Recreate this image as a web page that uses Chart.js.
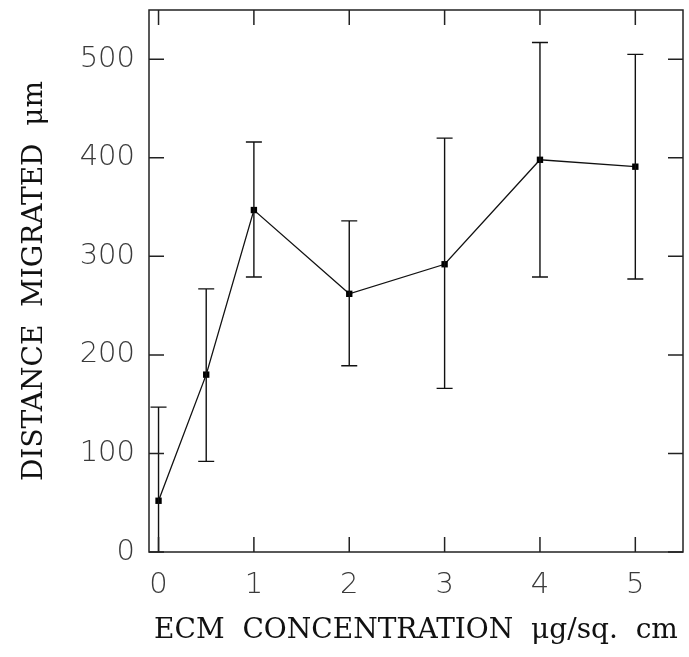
<!DOCTYPE html>
<html>
<head>
<meta charset="utf-8">
<script src="https://cdn.jsdelivr.net/npm/chart.js@4/dist/chart.umd.min.js"></script>
<style>
html,body{margin:0;padding:0;background:#fff;}
#wrap{width:689px;height:657px;}
</style>
</head>
<body>
<div id="wrap"><canvas id="c" width="689" height="657"></canvas></div>
<script>
const concentrations = [0, 0.5, 1, 2, 3, 4, 5];
const distances = [52, 180, 347, 262, 292, 398, 391];
const errUpper = [147, 267, 416, 336, 420, 517, 505];
const errLower = [-44, 92, 279, 189, 166, 279, 277];
const xTicks = [0, 1, 2, 3, 4, 5];
const yTicks = [0, 100, 200, 300, 400, 500];

const points = concentrations.map((x, i) => ({x: x, y: distances[i]}));

const framePlugin = {
  id: 'frame',
  afterDatasetsDraw(chart) {
    const ctx = chart.ctx;
    const a = chart.chartArea;
    const xs = chart.scales.x, ys = chart.scales.y;
    ctx.save();
    ctx.beginPath();
    ctx.rect(a.left, a.top, a.right - a.left, a.bottom - a.top);
    ctx.clip();
    ctx.strokeStyle = '#111';
    ctx.lineWidth = 1.4;
    concentrations.forEach((x, i) => {
      const px = xs.getPixelForValue(x);
      const pt = ys.getPixelForValue(errUpper[i]);
      const pb = ys.getPixelForValue(errLower[i]);
      ctx.beginPath();
      ctx.moveTo(px, pt); ctx.lineTo(px, pb);
      ctx.moveTo(px - 8, pt); ctx.lineTo(px + 8, pt);
      ctx.moveTo(px - 8, pb); ctx.lineTo(px + 8, pb);
      ctx.stroke();
    });
    ctx.restore();
    ctx.save();
    ctx.strokeStyle = '#222';
    ctx.lineWidth = 1.5;
    ctx.strokeRect(a.left, a.top, a.right - a.left, a.bottom - a.top);
    const tl = 15;
    ctx.beginPath();
    xTicks.forEach(v => {
      const px = xs.getPixelForValue(v);
      ctx.moveTo(px, a.bottom); ctx.lineTo(px, a.bottom - tl);
      ctx.moveTo(px, a.top); ctx.lineTo(px, a.top + tl);
    });
    yTicks.forEach(v => {
      const py = ys.getPixelForValue(v);
      ctx.moveTo(a.left, py); ctx.lineTo(a.left + tl, py);
      ctx.moveTo(a.right, py); ctx.lineTo(a.right - tl, py);
    });
    ctx.stroke();
    ctx.restore();
  }
};

new Chart(document.getElementById('c'), {
  type: 'scatter',
  data: {
    datasets: [{
      data: points,
      showLine: true,
      borderColor: '#111',
      borderWidth: 1.3,
      backgroundColor: '#000',
      pointStyle: 'rect',
      pointRadius: 4.5,
      pointBorderWidth: 0,
      tension: 0
    }]
  },
  options: {
    responsive: false,
    animation: false,
    layout: {padding: {top: 10, right: 6, left: 0, bottom: 0}},
    plugins: {legend: {display: false}, tooltip: {enabled: false}},
    scales: {
      x: {
        type: 'linear',
        min: -0.1, max: 5.5,
        afterBuildTicks(s) { s.ticks = xTicks.map(v => ({value: v})); },
        afterFit(s) { s.height = 105; s.paddingLeft = 0; s.paddingRight = 0; },
        grid: {display: false, drawTicks: false},
        border: {display: false},
        ticks: {
          color: '#3a3a3a', padding: 16,
          font: {family: 'DejaVu Sans', size: 29, weight: 200},
          maxRotation: 0
        },
        title: {
          display: true,
          text: 'ECM  CONCENTRATION  μg/sq.  cm',
          color: '#111',
          font: {family: 'DejaVu Serif', size: 28},
          padding: {top: 0, bottom: 9}
        }
      },
      y: {
        type: 'linear',
        min: 0, max: 550,
        afterBuildTicks(s) { s.ticks = yTicks.map(v => ({value: v})); },
        afterFit(s) { s.width = 149; s.paddingTop = 0; s.paddingBottom = 0; },
        grid: {display: false, drawTicks: false},
        border: {display: false},
        ticks: {
          color: '#3a3a3a', padding: 14,
          font: {family: 'DejaVu Sans', size: 29, weight: 200}
        },
        title: {
          display: true,
          text: 'DISTANCE  MIGRATED  μm',
          color: '#111',
          font: {family: 'DejaVu Serif', size: 28},
          padding: {top: 18, bottom: 0}
        }
      }
    }
  },
  plugins: [framePlugin]
});
</script>
</body>
</html>
